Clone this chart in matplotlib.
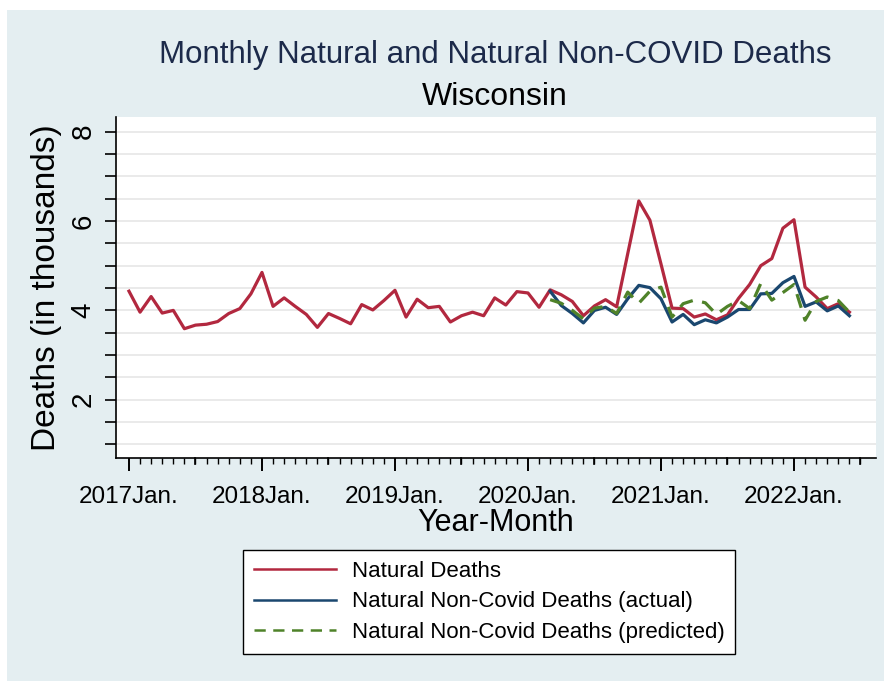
import numpy as np
import matplotlib.pyplot as plt
from matplotlib.patches import Rectangle

plt.rcParams['font.family'] = ['Liberation Sans', 'DejaVu Sans']

# monthly deaths in thousands, Jan 2017 - Jun 2022
natural = [4.43, 3.96, 4.31, 3.94, 4.00, 3.59, 3.67, 3.69, 3.75, 3.93, 4.04, 4.37,
           4.85, 4.09, 4.28, 4.09, 3.91, 3.62, 3.93, 3.82, 3.70, 4.13, 4.01, 4.22,
           4.45, 3.85, 4.25, 4.06, 4.09, 3.74, 3.88, 3.96, 3.88, 4.28, 4.12, 4.42,
           4.39, 4.07, 4.46, 4.35, 4.20, 3.88, 4.10, 4.24, 4.08, 5.27, 6.45, 6.02,
           5.04, 4.05, 4.04, 3.85, 3.92, 3.79, 3.90, 4.27, 4.58, 5.00, 5.16, 5.84,
           6.03, 4.52, 4.30, 4.04, 4.15, 3.96]
# non-covid series start in Mar 2020
noncovid_start = 38
noncovid_actual = [4.43, 4.11, 3.93, 3.72, 4.00, 4.07, 3.91, 4.26, 4.56, 4.51,
                   4.26, 3.74, 3.91, 3.68, 3.79, 3.72, 3.85, 4.02, 4.02, 4.37,
                   4.38, 4.62, 4.76, 4.09, 4.19, 3.99, 4.10, 3.88]
noncovid_pred = [4.24, 4.16, 4.00, 3.81, 4.05, 4.09, 3.93, 4.41, 4.16, 4.43,
                 4.52, 3.85, 4.15, 4.23, 4.17, 3.91, 4.09, 4.22, 4.04, 4.60,
                 4.23, 4.40, 4.58, 3.78, 4.20, 4.30, 4.22, 3.96]
year_labels = ['2017Jan.', '2018Jan.', '2019Jan.', '2020Jan.', '2021Jan.', '2022Jan.']

months = np.arange(len(natural))
months_nc = np.arange(noncovid_start, noncovid_start + len(noncovid_actual))

bg = '#E4EEF1'
fig = plt.figure(figsize=(8.84, 6.81), dpi=100, facecolor='white')
fig.patches.append(Rectangle((7 / 884, 0), 1, 1 - 10 / 681, transform=fig.transFigure,
                             facecolor=bg, edgecolor='none', zorder=-10))

ax = fig.add_axes([116 / 884, 1 - 458 / 681, (876 - 116) / 884, (458 - 117) / 681])
ax.set_facecolor('white')

ax.plot(months, natural, color='#B2283F', lw=2.3, label='Natural Deaths', zorder=3)
ax.plot(months_nc, noncovid_actual, color='#1A476F', lw=2.3,
        label='Natural Non-Covid Deaths (actual)', zorder=4)
ax.plot(months_nc, noncovid_pred, color='#4F8229', lw=2.3, dashes=(4.5, 3),
        label='Natural Non-Covid Deaths (predicted)', zorder=5)

ax.set_xlim(-1.17, 67.4)
ax.set_ylim(0.695, 8.33)

# y axis: ticks every 0.5, labels at 2,4,6,8
yt = np.arange(1, 8.01, 0.5)
ax.set_yticks(yt)
ax.set_yticklabels(['' if v % 2 else str(int(v)) for v in yt],
                   rotation=90, va='center', fontsize=20)
ax.tick_params(axis='y', length=8, width=1.2, pad=6)
ax.grid(axis='y', color='#EAEAEA', lw=1.4, zorder=0)

# x axis: yearly major, mid-year and monthly minor ticks
ax.set_xticks(np.arange(0, 61, 12))
ax.set_xticklabels(year_labels, fontsize=17.5)
ax.set_xticks(np.arange(0, 67), minor=True)
ax.tick_params(axis='x', which='major', length=9, width=1.4, pad=11)
ax.tick_params(axis='x', which='minor', length=4.5, width=1.0)
for m in np.arange(6, 67, 12):
    ax.plot([m, m], [0, -0.019], transform=ax.get_xaxis_transform(), clip_on=False,
            color='black', lw=1.2)

for side in ['top', 'right']:
    ax.spines[side].set_visible(False)
for side in ['left', 'bottom']:
    ax.spines[side].set_linewidth(1.2)

ax.set_ylabel('Deaths (in thousands)', fontsize=24, labelpad=6)
ax.set_xlabel('Year-Month', fontsize=22, labelpad=0)

fig.text(495 / 884, 1 - 55 / 681, 'Monthly Natural and Natural Non-COVID Deaths',
         ha='center', va='center', fontsize=22.5, color='#1C2A4A')
fig.text(495 / 884, 1 - 97 / 681, 'Wisconsin', ha='center', va='center',
         fontsize=23, color='black')

leg = fig.legend(loc='center', bbox_to_anchor=(489 / 884, 1 - 602 / 681), fontsize=16,
                 handlelength=3.7, handletextpad=0.7, labelspacing=0.42,
                 borderpad=0.5, fancybox=False, framealpha=1, edgecolor='black')
leg.get_frame().set_linewidth(1.0)
for line in leg.get_lines():
    line.set_linewidth(1.8)

fig.savefig('out.png', dpi=100, facecolor=fig.get_facecolor())
